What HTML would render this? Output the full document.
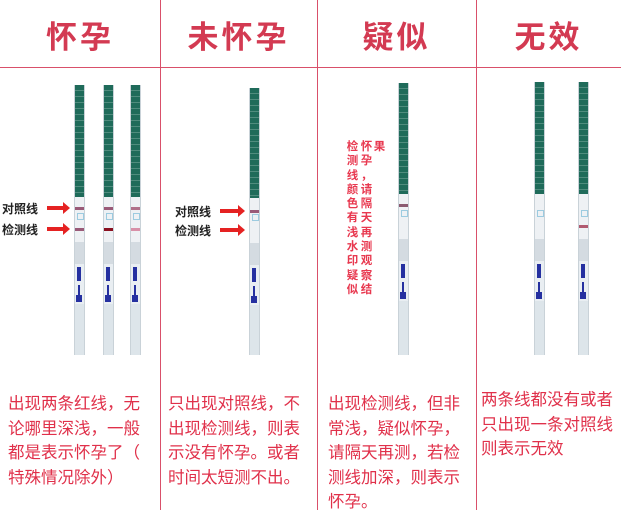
<!DOCTYPE html>
<html><head><meta charset="utf-8"><style>
body{margin:0;width:621px;height:510px;background:#fff;position:relative;overflow:hidden;font-family:"Liberation Sans","Noto Sans CJK SC",sans-serif}
.v{position:absolute;top:0;width:1px;height:510px;background:#d9506a}
.h{position:absolute;left:0;top:67px;width:621px;height:1px;background:#d9506a}
.hd{position:absolute;top:12px;font-size:31px;font-weight:bold;color:#d33a52;text-align:center;letter-spacing:3px}
.tx{position:absolute;top:392px;font-size:16.5px;line-height:24.5px;color:#e0304a;white-space:nowrap}
.s{position:absolute;width:9px;background:#dde5ea;border-left:1px solid #c9d2d8;border-right:1px solid #c9d2d8}
.g{position:absolute;left:0;right:0;top:0;background:#1f6b5a;background-image:repeating-linear-gradient(180deg,transparent 0 5px,rgba(255,255,255,.22) 5px 6px)}
.p{position:absolute;left:0;right:0;background:#eef1f4}
.ln{position:absolute;left:0;right:0;height:3px}
.mx{position:absolute;left:1px;width:6px;background:#2530a0}
.lb{position:absolute;font-size:12px;font-weight:bold;color:#222}
.ar{position:absolute;height:4px;background:#e52222}
.ar:after{content:"";position:absolute;right:-6px;top:-4px;border-left:7px solid #e52222;border-top:6px solid transparent;border-bottom:6px solid transparent}
.vc{position:absolute;font-size:11.5px;font-weight:bold;color:#e8384f;line-height:14.3px;width:13px;text-align:center}
</style></head><body>
<div class="v" style="left:160px"></div><div class="v" style="left:317px"></div><div class="v" style="left:476px"></div>
<div class="h"></div>
<div class="hd" style="left:0;width:160px">怀孕</div>
<div class="hd" style="left:160px;width:157px">未怀孕</div>
<div class="hd" style="left:317px;width:159px">疑似</div>
<div class="hd" style="left:476px;width:145px">无效</div>

<div id="strips"></div>

<div class="lb" style="left:2px;top:200px">对照线</div><div class="ar" style="left:47px;top:206px;width:17px"></div>
<div class="lb" style="left:2px;top:221px">检测线</div><div class="ar" style="left:47px;top:227px;width:17px"></div>
<div class="lb" style="left:175px;top:203px">对照线</div><div class="ar" style="left:220px;top:209px;width:19px"></div>
<div class="lb" style="left:175px;top:222px">检测线</div><div class="ar" style="left:220px;top:228px;width:19px"></div>

<div class="vc" style="left:346px;top:140px">检<br>测<br>线<br>颜<br>色<br>有<br>浅<br>水<br>印<br>疑<br>似</div>
<div class="vc" style="left:360px;top:140px">怀<br>孕<br>，<br>请<br>隔<br>天<br>再<br>测<br>观<br>察<br>结</div>
<div class="vc" style="left:373px;top:140px">果</div>

<div class="tx" style="left:8px">出现两条红线，无<br>论哪里深浅，一般<br>都是表示怀孕了（<br>特殊情况除外）</div>
<div class="tx" style="left:168px">只出现对照线，不<br>出现检测线，则表<br>示没有怀孕。或者<br>时间太短测不出。</div>
<div class="tx" style="left:328px">出现检测线，但非<br>常浅，疑似怀孕，<br>请隔天再测，若检<br>测线加深，则表示<br>怀孕。</div>
<div class="tx" style="left:481px;top:388px">两条线都没有或者<br>只出现一条对照线<br>则表示无效</div>

<script>
var S=[[74,85,197,[[207,'#9a5a78'],[228,'#9a5a78']]],[103,85,197,[[207,'#9a5a78'],[228,'#8a1020']]],[130,85,197,[[207,'#b0708a'],[228,'#d890a8']]],
[249,88,198,[[210,'#9a5a78']]],[398,83,194,[[204,'#8a5a70']]],[534,82,194,[]],[578,82,194,[[225,'#b05a70']]]];
var h='';S.forEach(function(a){var x=a[0],t=a[1],g=a[2],b=355;
h+='<div class="s" style="left:'+x+'px;top:'+t+'px;height:'+(b-t)+'px">';
h+='<div class="g" style="height:'+(g-t)+'px"></div>';
h+='<div class="p" style="top:'+(g-t)+'px;height:'+(45)+'px"></div>';
h+='<div style="position:absolute;left:2px;top:'+(g-t+16)+'px;width:5px;height:5px;border:1px solid #9ccbe0"></div>';
h+='<div class="p" style="top:'+(g-t+45)+'px;height:22px;background:#d4dbe1"></div>';
h+='<div class="p" style="top:'+(g-t+67)+'px;height:40px;background:#e9eef2"></div>';
h+='<div class="mx" style="top:'+(g-t+70)+'px;height:14px;width:4px;left:2px"></div>';
h+='<div class="mx" style="top:'+(g-t+88)+'px;height:10px;width:2px;left:3px"></div>';
h+='<div class="mx" style="top:'+(g-t+98)+'px;height:7px"></div>';
a[3].forEach(function(l){h+='<div class="ln" style="top:'+(l[0]-t)+'px;background:'+l[1]+'"></div>'});
h+='</div>'});
document.getElementById('strips').innerHTML=h;
</script>
</body></html>
